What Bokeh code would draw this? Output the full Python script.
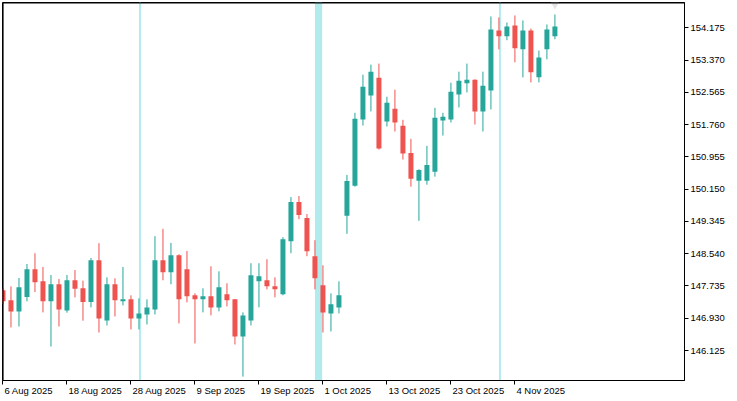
from bokeh.plotting import figure
from bokeh.models import Range1d, FixedTicker, ColumnDataSource, NumeralTickFormatter
from bokeh.embed import file_html
from bokeh.resources import INLINE

dates = [
    "2025-08-06", "2025-08-07", "2025-08-08", "2025-08-11", "2025-08-12", "2025-08-13", "2025-08-14", "2025-08-15",
    "2025-08-18", "2025-08-19", "2025-08-20", "2025-08-21", "2025-08-22", "2025-08-25", "2025-08-26", "2025-08-27",
    "2025-08-28", "2025-08-29", "2025-09-01", "2025-09-02", "2025-09-03", "2025-09-04", "2025-09-05", "2025-09-08",
    "2025-09-09", "2025-09-10", "2025-09-11", "2025-09-12", "2025-09-15", "2025-09-16", "2025-09-17", "2025-09-18",
    "2025-09-19", "2025-09-22", "2025-09-23", "2025-09-24", "2025-09-25", "2025-09-26", "2025-09-29", "2025-09-30",
    "2025-10-01", "2025-10-02", "2025-10-03", "2025-10-06", "2025-10-07", "2025-10-08", "2025-10-09", "2025-10-10",
    "2025-10-13", "2025-10-14", "2025-10-15", "2025-10-16", "2025-10-17", "2025-10-20", "2025-10-21", "2025-10-22",
    "2025-10-23", "2025-10-24", "2025-10-27", "2025-10-28", "2025-10-29", "2025-10-30", "2025-10-31", "2025-11-03",
    "2025-11-04", "2025-11-05", "2025-11-06", "2025-11-07", "2025-11-10", "2025-11-11",
]

opens = [
    147.626, 147.376, 147.101, 147.458, 148.151, 147.851, 147.351, 147.776, 147.126, 147.876,
    147.676, 147.333, 148.377, 146.876, 147.776, 147.351, 147.401, 146.926, 147.026, 147.151,
    148.377, 148.076, 148.502, 148.151, 147.501, 147.401, 147.476, 147.201, 147.526, 147.401,
    146.475, 146.876, 147.851, 147.876, 147.726, 147.526, 148.852, 149.828, 149.428, 148.477,
    147.751, 147.051, 147.201, 149.485, 150.236, 151.888, 152.488, 152.931, 151.838, 152.155,
    151.730, 151.054, 150.361, 150.361, 150.586, 151.863, 151.888, 152.513, 152.789, 152.881,
    152.088, 152.613, 154.107, 153.965, 154.233, 153.639, 154.107, 152.939, 153.639, 153.965,
]
highs = [
    147.676, 147.726, 147.934, 148.284, 148.552, 148.209, 148.009, 147.909, 148.009, 148.134,
    147.869, 148.434, 148.802, 147.951, 147.926, 148.209, 147.501, 147.426, 147.401, 148.977,
    149.160, 148.810, 148.527, 148.609, 147.551, 147.676, 148.226, 148.101, 147.801, 147.410,
    147.076, 148.302, 148.302, 148.402, 147.951, 148.952, 149.953, 149.978, 149.528, 148.877,
    148.251, 147.551, 147.851, 150.504, 152.055, 153.006, 153.257, 153.282, 152.456, 152.631,
    151.880, 151.405, 150.647, 151.230, 152.180, 152.055, 152.806, 153.081, 153.282, 152.890,
    153.081, 154.458, 154.433, 154.308, 154.483, 154.358, 154.157, 153.607, 154.258, 154.508,
]
lows = [
    147.276, 146.700, 146.725, 147.351, 147.583, 147.076, 146.225, 146.725, 147.068, 147.451,
    146.868, 147.201, 146.575, 146.750, 146.976, 147.251, 146.650, 146.650, 146.775, 147.026,
    147.876, 147.776, 146.800, 147.326, 146.300, 147.076, 147.001, 147.101, 147.226, 146.275,
    145.474, 146.750, 147.201, 147.651, 147.451, 147.501, 148.552, 149.403, 148.477, 147.651,
    146.575, 146.600, 147.051, 149.035, 150.211, 151.738, 152.088, 151.137, 151.713, 151.588,
    150.887, 150.211, 149.360, 150.261, 150.461, 151.487, 151.813, 152.188, 152.563, 151.763,
    151.588, 152.138, 153.639, 153.865, 153.314, 152.939, 152.814, 152.814, 153.389, 153.890,
]
closes = [
    147.351, 147.101, 147.701, 148.151, 147.826, 147.351, 147.776, 147.151, 147.876, 147.668,
    147.333, 148.377, 146.926, 147.776, 147.376, 147.401, 146.926, 147.051, 147.201, 148.377,
    148.076, 148.502, 147.401, 147.476, 147.401, 147.476, 147.201, 147.701, 147.376, 146.475,
    147.001, 148.001, 147.976, 147.726, 147.651, 148.902, 149.828, 149.503, 148.602, 147.926,
    147.076, 147.276, 147.501, 150.354, 151.905, 152.706, 153.081, 151.162, 152.306, 151.813,
    151.037, 150.411, 150.629, 150.754, 151.930, 151.955, 152.581, 152.856, 152.881, 152.088,
    152.731, 154.132, 153.965, 154.208, 153.664, 154.107, 153.064, 153.432, 154.132, 154.208,
]

tick_dates = ["2025-08-06", "2025-08-18", "2025-08-28", "2025-09-09", "2025-09-19",
              "2025-10-01", "2025-10-13", "2025-10-23", "2025-11-04"]
tick_labels = ["6 Aug 2025", "18 Aug 2025", "28 Aug 2025", "9 Sep 2025", "19 Sep 2025",
               "1 Oct 2025", "13 Oct 2025", "23 Oct 2025", "4 Nov 2025"]
price_ticks = [146.125, 146.930, 147.735, 148.540, 149.345, 150.150,
               150.955, 151.760, 152.565, 153.370, 154.175]

event_dates = ["2025-08-29", "2025-09-30", "2025-10-31"]
event_spans = [0.25, 0.9, 0.25]

UP = "#26a69a"
DOWN = "#ef5350"
BAND = "#b2ebee"
FONT = "Liberation Sans"
FONT_PX = 9.5
FSIZE = f"{FONT_PX}px"

# approximate advance widths (per 1000 em) of Liberation Sans, used only to
# left-align the date labels against their ticks
ADV = {" ": 278, "A": 667, "S": 667, "O": 778, "N": 722, "u": 556, "g": 556,
       "e": 556, "p": 556, "c": 500, "t": 278, "o": 556, "v": 500}

W, H = 737, 401
BL, BT, BR, BB = 2, 2, 53, 21
x0, x1 = -0.06, 85.2
y0, y1 = 145.377, 154.806

idx = list(range(len(dates)))
colors = [UP if c >= o else DOWN for o, c in zip(opens, closes)]
src = ColumnDataSource(dict(
    x=idx, high=highs, low=lows,
    top=[max(o, c) for o, c in zip(opens, closes)],
    bottom=[min(o, c) for o, c in zip(opens, closes)],
    color=colors,
))

p = figure(width=W, height=H, output_backend="svg", toolbar_location=None,
           x_range=Range1d(x0, x1), y_range=Range1d(y0, y1),
           y_axis_location="right",
           min_border_left=BL, min_border_top=BT, min_border_right=BR, min_border_bottom=BB)
p.background_fill_color = "white"
p.border_fill_color = "white"
p.outline_line_color = "black"
p.grid.visible = False

xa = p.xaxis[0]
ya = p.yaxis[0]

px_per_x = (W - BL - BR) / (x1 - x0)
px_per_y = (H - BT - BB) / (y1 - y0)

# event highlight bands (behind candles)
ev_left = [dates.index(d) for d in event_dates]
ev_right = [l + w for l, w in zip(ev_left, event_spans)]
p.quad(left=ev_left, right=ev_right, bottom=y0, top=y1,
       fill_color=BAND, line_color=None)

p.segment(x0="x", y0="high", x1="x", y1="low", line_color="color", line_width=1, source=src)
p.vbar(x="x", width=0.625, top="top", bottom="bottom", fill_color="color",
       line_color=None, source=src)

# last-bar marker at top of the frame
p.scatter(x=[idx[-1]], y=[y1 - 0.06], marker="inverted_triangle", size=8,
          fill_color="#e4e4e4", line_color=None)

# black frame edges on the left and top, drawn just inside the frame
ex = x0 + 0.5 / px_per_x
ey = y1 - 0.5 / px_per_y
p.segment(x0=[ex, x0], y0=[y0, ey], x1=[ex, x1], y1=[y1, ey],
          line_color="black", line_width=1.2)


def style(ax):
    ax.axis_line_color = "black"
    ax.major_tick_line_color = "black"
    ax.major_tick_out = 4
    ax.major_tick_in = 0
    ax.minor_tick_line_color = None
    ax.major_label_text_font = FONT
    ax.major_label_text_font_size = FSIZE
    ax.major_label_text_color = "black"
    ax.major_label_standoff = 2


# x axis: labels start at their tick (left aligned); the date ticks are drawn
# as the axis' minor ticks and the labels sit on shifted major ticks
tick_pos = [dates.index(d) for d in tick_dates]
lab_pos = []
for pos, lab in zip(tick_pos, tick_labels):
    w_px = sum(ADV.get(ch, 556) for ch in lab) / 1000.0 * FONT_PX
    lab_pos.append(round(pos + (w_px / 2 + 1.5) / px_per_x, 4))

style(xa)
xa.ticker = FixedTicker(ticks=lab_pos, minor_ticks=tick_pos)
xa.major_label_overrides = {lp: lab for lp, lab in zip(lab_pos, tick_labels)}
xa.major_tick_line_color = None
xa.major_tick_out = 4
xa.major_label_standoff = 0
xa.minor_tick_line_color = "black"
xa.minor_tick_out = 4
xa.minor_tick_in = 0

style(ya)
ya.ticker = FixedTicker(ticks=price_ticks)
ya.formatter = NumeralTickFormatter(format="0.000")

open("out.html", "w").write(file_html(p, INLINE))
